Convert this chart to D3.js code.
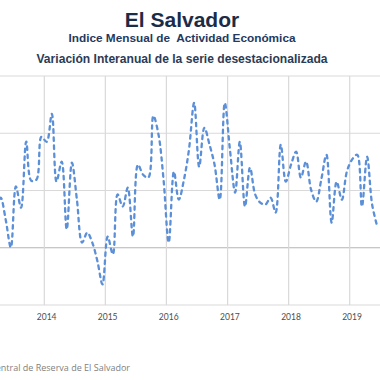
<!DOCTYPE html>
<html>
<head>
<meta charset="utf-8">
<script src="https://cdn.jsdelivr.net/npm/d3@7"></script>
<style>
  body { margin: 0; background: #fff; }
  svg { display: block; }
</style>
</head>
<body>
<script>
const width = 380;
const height = 380;

// serie mensual desde marzo 2013 hasta junio 2019 (variación interanual, %)
const inicio = [2013, 2]; // año, mes (0 = enero)
const valores = [
  1.16, 1.75, 0.99, 0.01, 2.14, 1.40, 3.71, 2.34, 2.38, 3.88,
  3.70, 4.68, 2.31, 3.01, 0.64, 2.97, 1.68, 0.18, 0.53, 0.18,
  -0.48, -1.28, 0.39, -0.23, 1.86, 1.44, 2.10, 0.39, 2.90, 2.55,
  2.45, 4.61, 3.95, 2.38, 0.18, 2.66, 1.68, 2.38, 3.43, 5.06,
  2.83, 4.19, 3.60, 2.90, 1.68, 5.06, 3.43, 1.93, 3.70, 1.44,
  2.80, 1.86, 1.58, 1.51, 1.75, 1.23, 3.60, 2.31, 2.90, 3.36,
  2.45, 3.01, 2.03, 1.61, 2.38, 3.25, 0.88, 2.31, 1.68, 2.66,
  3.08, 3.25, 1.44, 3.18, 1.51, 0.74,
];
const anios = [2014, 2015, 2016, 2017, 2018, 2019];
const ticksY = [-2, 0, 2, 4, 6];

const datos = valores.map((v, i) => ({
  fecha: new Date(inicio[0], inicio[1] + i, 15),
  valor: v,
}));

const svg = d3
  .select("body")
  .append("svg")
  .attr("width", width)
  .attr("height", height);

const escalaX = d3
  .scaleTime()
  .domain([new Date(2014, 0, 1), new Date(2019, 0, 1)])
  .range([44.3, 349.7]);

const escalaY = d3.scaleLinear().domain([-2, 6]).range([305, 76]);

// títulos
svg
  .append("text")
  .attr("x", 182)
  .attr("y", 27)
  .attr("text-anchor", "middle")
  .attr("font-family", "Liberation Sans, Arial, sans-serif")
  .attr("font-weight", "bold")
  .attr("font-size", 21)
  .attr("fill", "#1b2c48")
  .text("El Salvador");

svg
  .append("text")
  .attr("x", 182)
  .attr("y", 42)
  .attr("text-anchor", "middle")
  .attr("font-family", "Liberation Sans, Arial, sans-serif")
  .attr("font-weight", "bold")
  .attr("font-size", 11.8)
  .attr("fill", "#24395e")
  .style("white-space", "pre")
  .text("Indice Mensual de  Actividad Económica");

svg
  .append("text")
  .attr("x", 182)
  .attr("y", 63)
  .attr("text-anchor", "middle")
  .attr("font-family", "Liberation Sans, Arial, sans-serif")
  .attr("font-weight", "bold")
  .attr("font-size", 12.1)
  .attr("fill", "#2c3b55")
  .text("Variación Interanual de la serie desestacionalizada");

// rejilla
const rejilla = svg.append("g");

rejilla
  .selectAll("line.h")
  .data(ticksY)
  .join("line")
  .attr("class", "h")
  .attr("x1", 0)
  .attr("x2", width)
  .attr("y1", (d) => escalaY(d))
  .attr("y2", (d) => escalaY(d))
  .attr("stroke", (d) => (d === 0 ? "#b4b4b4" : "#d9d9d9"))
  .attr("stroke-width", 1.2);

rejilla
  .selectAll("line.v")
  .data(d3.range(2013, 2021))
  .join("line")
  .attr("class", "v")
  .attr("x1", (d) => escalaX(new Date(d, 0, 1)))
  .attr("x2", (d) => escalaX(new Date(d, 0, 1)))
  .attr("y1", escalaY(6))
  .attr("y2", escalaY(-2))
  .attr("stroke", "#d9d9d9")
  .attr("stroke-width", 1.2);

// etiquetas de años
svg
  .append("g")
  .selectAll("text")
  .data(anios)
  .join("text")
  .attr("x", (d) => escalaX(new Date(d, 0, 15)))
  .attr("y", 320)
  .attr("text-anchor", "middle")
  .attr("font-family", "Lato, sans-serif")
  .attr("font-size", 8.5)
  .attr("fill", "#4d4d4d")
  .text((d) => d);

// línea
const linea = d3
  .line()
  .x((d) => escalaX(d.fecha))
  .y((d) => escalaY(d.valor))
  .curve(d3.curveCatmullRom.alpha(0.5));

svg
  .append("path")
  .datum(datos)
  .attr("d", linea)
  .attr("fill", "none")
  .attr("stroke", "#5b8fd8")
  .attr("stroke-width", 2.3)
  .attr("stroke-linecap", "round")
  .attr("stroke-dasharray", "3.5,4.5");

// fuente (recortada por el borde izquierdo, como en el original)
svg
  .append("text")
  .attr("x", 130)
  .attr("y", 371)
  .attr("text-anchor", "end")
  .attr("font-family", "Open Sans, sans-serif")
  .attr("font-size", 9)
  .attr("fill", "#7f7f7f")
  .text("Fuente: Banco Central de Reserva de El Salvador");
</script>
</body>
</html>
